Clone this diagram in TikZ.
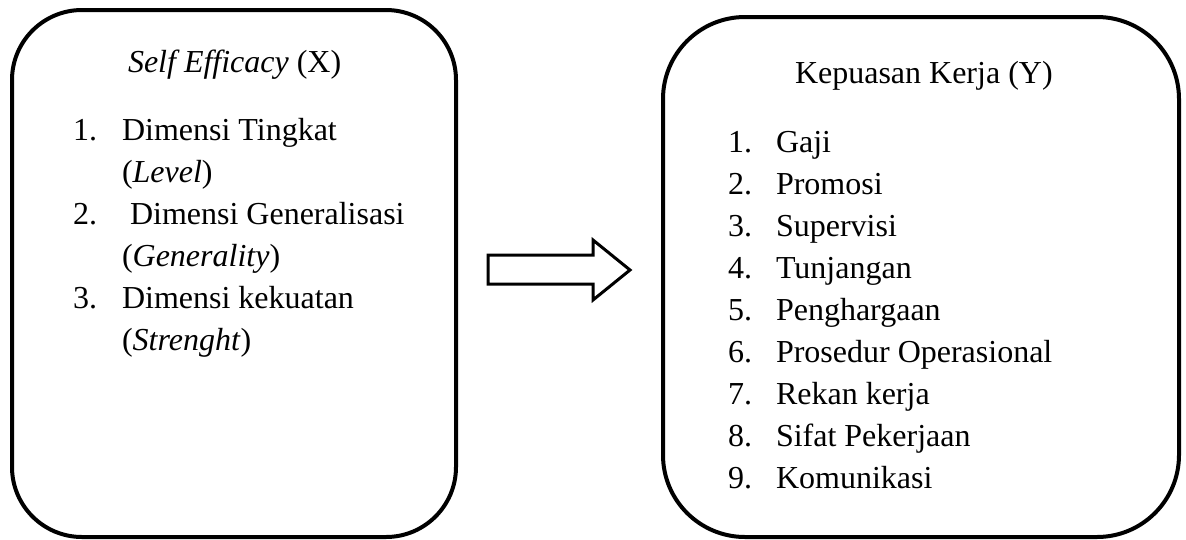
\documentclass[tikz,border=0pt]{standalone}
\usepackage{fontspec}
\setmainfont{Liberation Serif}
\begin{document}
\begin{tikzpicture}[x=1pt,y=-1pt,
  box/.style={line width=4pt},
  blockarrow/.style={line width=3pt, line join=miter},
  txt/.style={anchor=base west, inner sep=0pt, outer sep=0pt, font=\fontsize{32}{38}\selectfont}]
\useasboundingbox (0,0) rectangle (1186,539);
% boxes
\draw[box, rounded corners=70pt] (12,10) rectangle (456,537);
\draw[box, rounded corners=82pt] (663,17) rectangle (1179,537);
% block arrow
\draw[blockarrow] (488,255) -- (593,255) -- (593,240) -- (630,270) -- (593,300) -- (593,284) -- (488,284) -- cycle;
% left texts
\node[txt] (xtitle) at (128,72) {\textit{Self Efficacy} (X)};
\node[txt] (xn1) at (73,140) {1.};
\node[txt] (xi1) at (122,140) {Dimensi Tingkat};
\node[txt] (xi1b) at (122,182) {(\textit{Level})};
\node[txt] (xn2) at (73,224) {2.};
\node[txt] (xi2) at (130,224) {Dimensi Generalisasi};
\node[txt] (xi2b) at (122,266) {(\textit{Generality})};
\node[txt] (xn3) at (73,308) {3.};
\node[txt] (xi3) at (122,308) {Dimensi kekuatan};
\node[txt] (xi3b) at (122,350) {(\textit{Strenght})};
% right texts
\node[txt] (ytitle) at (795,83) {Kepuasan Kerja (Y)};
\foreach \i/\t in {1/Gaji,2/Promosi,3/Supervisi,4/Tunjangan,5/Penghargaan,6/Prosedur Operasional,7/Rekan kerja,8/Sifat Pekerjaan,9/Komunikasi}{
  \node[txt] (yn\i) at (728,{152+42.1*(\i-1)}) {\i.};
  \node[txt] (yi\i) at (776,{152+42.1*(\i-1)}) {\t};
}
\end{tikzpicture}
\end{document}
